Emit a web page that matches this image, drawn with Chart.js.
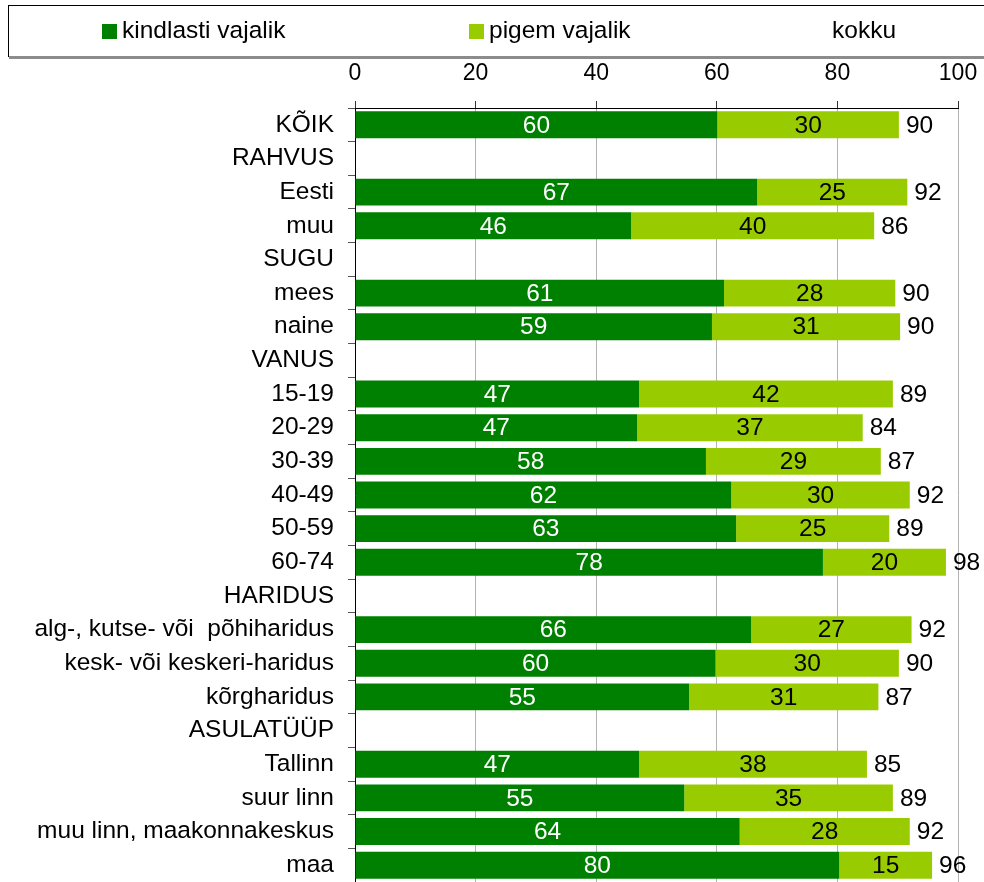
<!DOCTYPE html>
<html>
<head>
<meta charset="utf-8">
<script src="https://cdn.jsdelivr.net/npm/chart.js@4/dist/chart.umd.min.js"></script>
<style>
  html, body { margin: 0; padding: 0; background: #fff; }
  canvas { display: block; }
</style>
</head>
<body>
<canvas id="chart" width="984" height="882"></canvas>
<script>
// categories (rows, top to bottom)
const categories = [
  "KÕIK", "RAHVUS", "Eesti", "muu", "SUGU", "mees", "naine", "VANUS",
  "15-19", "20-29", "30-39", "40-49", "50-59", "60-74", "HARIDUS",
  "alg-, kutse- või  põhiharidus", "kesk- või keskeri-haridus", "kõrgharidus",
  "ASULATÜÜP", "Tallinn", "suur linn", "muu linn, maakonnakeskus", "maa"
];

// values (percent)
const kindlasti = [60.1, null, 66.7, 45.8, null, 61.2, 59.2, null,
  47.1, 46.8, 58.2, 62.4, 63.2, 77.6, null,
  65.7, 59.8, 55.4, null, 47.1, 54.6, 63.8, 80.3];
const pigem = [30.1, null, 24.9, 40.3, null, 28.4, 31.2, null,
  42.1, 37.4, 29.0, 29.6, 25.4, 20.4, null,
  26.6, 30.4, 31.4, null, 37.8, 34.6, 28.2, 15.4];

const legendNames = ["kindlasti vajalik", "pigem vajalik", "kokku"];
const xTicks = [0, 20, 40, 60, 80, 100];

const DARK = "#008000";
const LIGHT = "#99cc00";
const FONT = "'Liberation Sans', Arial, sans-serif";
const TXT = "24.5px " + FONT;

/* ===========================
   PLUGINS
=========================== */
const valueLabels = {
  id: "valueLabels",
  afterDatasetsDraw(chart) {
    const ctx = chart.ctx;
    ctx.save();
    ctx.font = TXT;
    ctx.textBaseline = "middle";
    const m0 = chart.getDatasetMeta(0);
    const m1 = chart.getDatasetMeta(1);
    categories.forEach((c, i) => {
      const a = kindlasti[i], b = pigem[i];
      if (a == null) return;
      const e0 = m0.data[i], e1 = m1.data[i];
      ctx.textAlign = "center";
      ctx.fillStyle = "#fff";
      ctx.fillText(String(Math.round(a)), (e0.x + e0.base) / 2, e0.y + 1);
      ctx.fillStyle = "#000";
      ctx.fillText(String(Math.round(b)), (e1.x + e1.base) / 2, e1.y + 1);
      ctx.textAlign = "left";
      ctx.fillText(String(Math.round(a + b)), e1.x + 7, e1.y + 1);
    });
    ctx.restore();
  }
};

const boxLegend = {
  id: "boxLegend",
  afterDraw(chart) {
    const ctx = chart.ctx;
    ctx.save();
    // frame with grey shadow edge
    ctx.fillStyle = "#fff";
    ctx.fillRect(8.5, 5.5, 990, 51);
    ctx.strokeStyle = "#000";
    ctx.lineWidth = 1;
    ctx.strokeRect(8.5, 5.5, 990, 51);
    ctx.fillStyle = "#8c8c8c";
    ctx.fillRect(9, 56, 984, 3);

    ctx.font = TXT;
    ctx.textBaseline = "middle";
    ctx.textAlign = "left";
    ctx.fillStyle = DARK;
    ctx.fillRect(102, 24, 15, 15);
    ctx.fillStyle = LIGHT;
    ctx.fillRect(469, 24, 15, 15);
    ctx.fillStyle = "#000";
    ctx.fillText(legendNames[0], 122, 31);
    ctx.fillText(legendNames[1], 489, 31);
    ctx.fillText(legendNames[2], 832, 31);
    ctx.restore();
  }
};

/* ===========================
   CHART
=========================== */
new Chart(document.getElementById("chart"), {
  type: "bar",
  data: {
    labels: categories,
    datasets: [
      { label: legendNames[0], data: kindlasti, backgroundColor: DARK,
        categoryPercentage: 0.8, barPercentage: 1 },
      { label: legendNames[1], data: pigem, backgroundColor: LIGHT,
        categoryPercentage: 0.8, barPercentage: 1 }
    ]
  },
  options: {
    indexAxis: "y",
    responsive: false,
    animation: false,
    layout: { padding: { top: 58, right: 26, left: 0, bottom: 0 } },
    plugins: {
      legend: { display: false },
      tooltip: { enabled: false }
    },
    scales: {
      x: {
        position: "top",
        stacked: true,
        min: 0,
        max: 100,
        afterBuildTicks(scale) {
          scale.ticks = xTicks.map(v => ({ value: v }));
        },
        afterFit(scale) {
          scale.height = 50;
          scale.paddingLeft = 0;
          scale.paddingRight = 0;
        },
        ticks: {
          color: "#000",
          font: { size: 23, family: FONT },
          padding: 14
        },
        grid: {
          color: "#b3b3b3",
          tickColor: "#333",
          tickLength: 7
        },
        border: { color: "#000", width: 1 }
      },
      y: {
        stacked: true,
        afterFit(scale) {
          scale.width = 355;
          scale.paddingTop = 0;
          scale.paddingBottom = 0;
        },
        ticks: {
          color: "#000",
          font: { size: 24.5, family: FONT },
          padding: 14,
          autoSkip: false
        },
        grid: {
          drawOnChartArea: false,
          color: "#555",
          tickLength: 7
        },
        border: { color: "#000", width: 1 }
      }
    }
  },
  plugins: [valueLabels, boxLegend]
});
</script>
</body>
</html>
